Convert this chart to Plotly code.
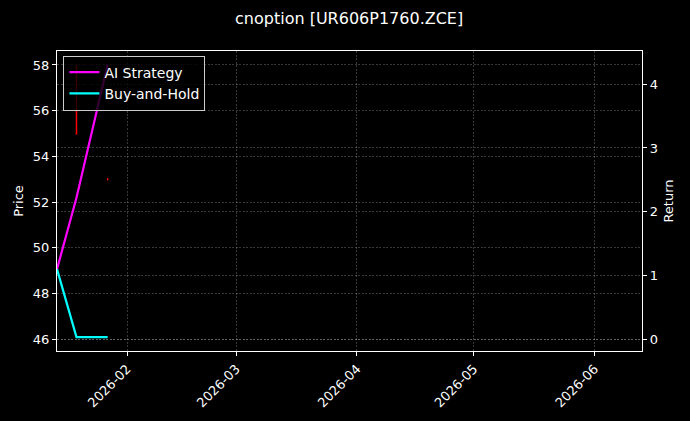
import plotly.graph_objects as go

# daily bars that are visible on the chart
bar_dates = ["2026-01-19", "2026-01-27"]
bar_high = [58.0, 53.05]
bar_low = [54.95, 52.95]

# cumulative return series
ret_dates = ["2026-01-14", "2026-01-19", "2026-01-27"]
ai_strategy = [1.10, 2.22, 4.31]
buy_and_hold = [1.10, 0.035, 0.035]

title = "cnoption [UR606P1760.ZCE]"
font = "DejaVu Sans"

# wick segments built from the bar arrays
wick_x, wick_y = [], []
for d, hi, lo in zip(bar_dates, bar_high, bar_low):
    wick_x += [d, d, None]
    wick_y += [lo, hi, None]

fig = go.Figure()
fig.add_trace(go.Scatter(
    x=wick_x, y=wick_y, mode="lines",
    line=dict(color="#ff0000", width=1.5),
    showlegend=False, hoverinfo="skip", yaxis="y",
))
fig.add_trace(go.Scatter(
    x=ret_dates, y=ai_strategy, mode="lines", name="AI Strategy",
    line=dict(color="#ff00ff", width=2.2), yaxis="y2",
))
fig.add_trace(go.Scatter(
    x=ret_dates, y=buy_and_hold, mode="lines", name="Buy-and-Hold",
    line=dict(color="#00ffff", width=2.2), yaxis="y2",
))

grid = "rgba(255,255,255,0.22)"
axis_style = dict(
    showgrid=True, gridcolor=grid, griddash="2px,1.5px", gridwidth=0.6,
    showline=True, linecolor="white", linewidth=1.2,
    ticks="outside", tickcolor="white", ticklen=4, zeroline=False,
    tickfont=dict(size=13, color="white"),
)

fig.update_layout(
    width=690, height=421,
    paper_bgcolor="black", plot_bgcolor="black",
    font=dict(family=font, size=13, color="white"),
    margin=dict(l=57, r=48, t=51, b=70),
    title=dict(text=title, x=0.506, xanchor="center", y=0.957, yanchor="middle",
               font=dict(size=16, color="white")),
    xaxis=dict(
        type="date", range=["2026-01-14", "2026-06-13 04:00"],
        dtick="M1", tick0="2026-02-01", tickformat="%Y-%m", tickangle=-45,
        mirror=True, **axis_style,
    ),
    yaxis=dict(
        title=dict(text="Price", standoff=6, font=dict(size=13)),
        range=[45.49, 58.61], dtick=2, **axis_style,
    ),
    yaxis2=dict(
        title=dict(text="Return", standoff=6, font=dict(size=13)),
        range=[-0.183, 4.52], dtick=1,
        overlaying="y", side="right", **axis_style,
    ),
    legend=dict(
        x=0.011, y=0.985, xanchor="left", yanchor="top",
        bgcolor="rgba(0,0,0,0.8)", bordercolor="#cccccc", borderwidth=1,
        font=dict(size=14, color="white"), tracegroupgap=0,
    ),
    showlegend=True,
)

fig.write_html("out.html", config={"displayModeBar": False},
               post_script="document.body.style.margin='0';")
